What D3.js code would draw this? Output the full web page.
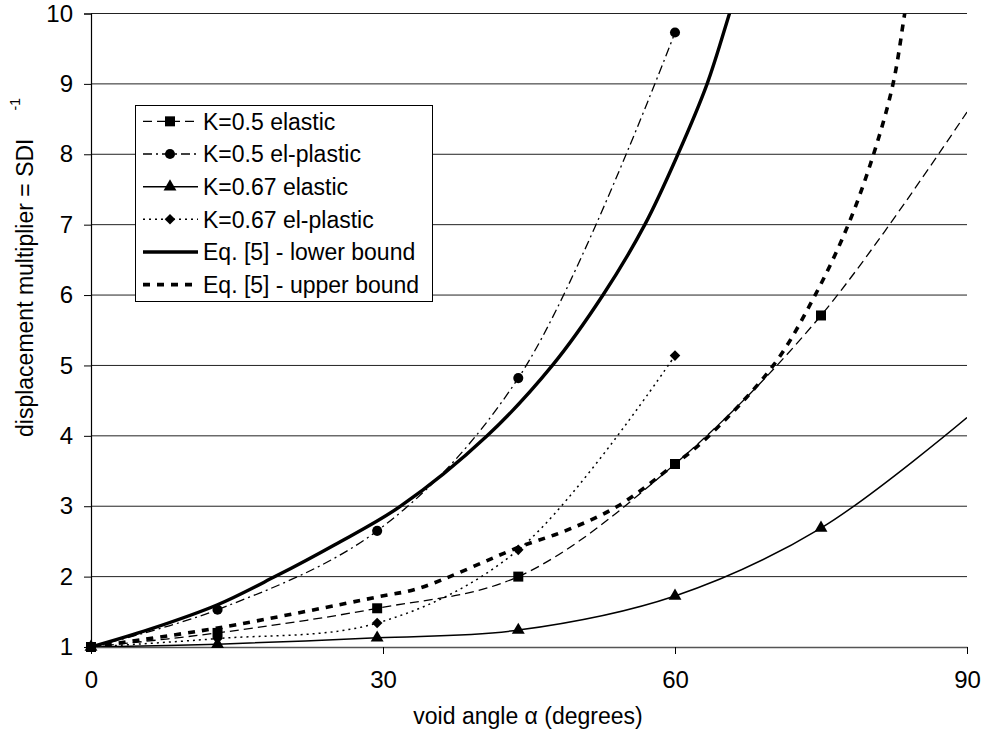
<!DOCTYPE html>
<html>
<head>
<meta charset="utf-8">
<script src="https://cdn.jsdelivr.net/npm/d3@7"></script>
<style>
  html, body { margin: 0; padding: 0; background: #fff; }
  svg { display: block; font-family: "Liberation Sans", Arial, sans-serif; }
</style>
</head>
<body>
<svg id="chart" width="982" height="738"></svg>
<script>
// Axis ticks
const angleTicks = [0, 30, 60, 90];
const multiplierTicks = [1, 2, 3, 4, 5, 6, 7, 8, 9, 10];

// Computed cases (void angle in degrees)
const caseAngles = [0, 13, 29.4, 43.9, 60, 75, 90];
const k05Elastic = [1, 1.2, 1.55, 2.0, 3.6, 5.71, 8.6];
const k05ElPlastic = [1, 1.53, 2.65, 4.82, 9.73];
const k067Elastic = [1, 1.04, 1.13, 1.24, 1.725, 2.69, 4.26];
const k067ElPlastic = [1, 1.12, 1.34, 2.38, 5.14];

// Eq. [5] bounds
const lowerAngles = [0, 6, 13, 18.9, 25, 31.8, 40.7, 47.4, 52.6, 56.9, 60.3, 63.3, 65.6, 66.5];
const lowerValues = [1, 1.25, 1.6, 2, 2.45, 3, 4, 5, 6, 7, 8, 9, 10, 10.4];
const upperAngles = [0, 13, 29.4, 33.8, 44, 48.9, 54.1, 60, 63.1, 70.1, 74.4, 77.8, 80.4, 82.4, 83.6, 84.3];
const upperValues = [1, 1.27, 1.71, 1.84, 2.42, 2.66, 3.0, 3.6, 3.95, 5, 6, 7, 8, 9, 10, 10.6];

const seriesNames = ["K=0.5 elastic", "K=0.5 el-plastic", "K=0.67 elastic", "K=0.67 el-plastic",
                     "Eq. [5] - lower bound", "Eq. [5] - upper bound"];

const series = [
  { name: seriesNames[0], xs: caseAngles, ys: k05Elastic, nMarkers: 6, marker: "square",
    width: 1.3, dash: "9,5" },
  { name: seriesNames[1], xs: caseAngles, ys: k05ElPlastic, nMarkers: 5, marker: "circle",
    width: 1.3, dash: "9,4,2,4" },
  { name: seriesNames[2], xs: caseAngles, ys: k067Elastic, nMarkers: 6, marker: "triangle",
    width: 1.5, dash: null },
  { name: seriesNames[3], xs: caseAngles, ys: k067ElPlastic, nMarkers: 5, marker: "diamond",
    width: 1.5, dash: "2,4" },
  { name: seriesNames[4], xs: lowerAngles, ys: lowerValues, nMarkers: 0, marker: null,
    width: 3.4, dash: null },
  { name: seriesNames[5], xs: upperAngles, ys: upperValues, nMarkers: 0, marker: null,
    width: 3.6, dash: "7,7" }
];

const FONT = 23;
const TICK_FONT = 24;
const svg = d3.select("#chart");
const plot = { left: 91, right: 967, top: 13.5, bottom: 647 };

const x = d3.scaleLinear().domain([0, 90]).range([plot.left, plot.right]);
const y = d3.scaleLinear().domain([1, 10]).range([plot.bottom, plot.top]);

svg.append("defs").append("clipPath").attr("id", "plotClip")
  .append("rect")
  .attr("x", plot.left).attr("y", plot.top)
  .attr("width", plot.right - plot.left).attr("height", plot.bottom - plot.top);

// Horizontal gridlines
svg.append("g")
  .selectAll("line")
  .data(multiplierTicks.filter(d => d > 1))
  .join("line")
  .attr("x1", plot.left).attr("x2", plot.right)
  .attr("y1", d => y(d)).attr("y2", d => y(d))
  .attr("stroke", "#222").attr("stroke-width", 1);

// Y axis
const yAxis = svg.append("g")
  .attr("transform", `translate(${plot.left},0)`)
  .call(d3.axisLeft(y).tickValues(multiplierTicks).tickSize(7).tickPadding(11).tickFormat(d3.format("d")));
yAxis.select(".domain").attr("stroke", "#000").attr("stroke-width", 1.2);
yAxis.selectAll(".tick line").attr("stroke", "#000");
yAxis.selectAll(".tick text")
  .attr("font-family", "Liberation Sans, Arial, sans-serif")
  .attr("font-size", TICK_FONT).attr("fill", "#000");

// X axis
const xAxis = svg.append("g")
  .attr("transform", `translate(0,${plot.bottom})`)
  .call(d3.axisBottom(x).tickValues(angleTicks).tickSize(7).tickPadding(17).tickSizeOuter(0));
xAxis.select(".domain").attr("stroke", "#555").attr("stroke-width", 1.4);
xAxis.selectAll(".tick line").attr("stroke", "#000");
xAxis.selectAll(".tick text")
  .attr("font-family", "Liberation Sans, Arial, sans-serif")
  .attr("font-size", TICK_FONT).attr("fill", "#000");

// Axis titles
svg.append("text")
  .attr("x", 528).attr("y", 724)
  .attr("text-anchor", "middle")
  .attr("font-size", FONT)
  .text("void angle \u03b1 (degrees)");

const yTitle = svg.append("text")
  .attr("transform", "translate(33,437) rotate(-90)")
  .attr("text-anchor", "start")
  .attr("font-size", FONT);
yTitle.append("tspan").text("displacement multiplier = SDI");
yTitle.append("tspan").attr("dx", 28).attr("dy", -13).attr("font-size", 14).text("-1");

// Series lines
const lineGen = d3.line()
  .x(d => x(d[0]))
  .y(d => y(d[1]))
  .curve(d3.curveCatmullRom.alpha(0.5));

const lineLayer = svg.append("g").attr("clip-path", "url(#plotClip)");
series.forEach(s => {
  const pts = s.ys.map((v, i) => [s.xs[i], v]);
  lineLayer.append("path")
    .attr("d", lineGen(pts))
    .attr("fill", "none")
    .attr("stroke", "#000")
    .attr("stroke-width", s.width)
    .attr("stroke-dasharray", s.dash)
    .attr("stroke-linejoin", "round");
});

// Marker shapes
const symbolFor = {
  square: { path: d3.symbol().type(d3.symbolSquare).size(100)(), rot: 0 },
  circle: { path: d3.symbol().type(d3.symbolCircle).size(80)(), rot: 0 },
  triangle: { path: d3.symbol().type(d3.symbolTriangle).size(72)(), rot: 0 },
  diamond: { path: d3.symbol().type(d3.symbolSquare).size(56)(), rot: 45 }
};

const markerLayer = svg.append("g");
series.forEach(s => {
  if (!s.marker) return;
  const sym = symbolFor[s.marker];
  const pts = s.ys.slice(0, s.nMarkers).map((v, i) => [s.xs[i], v]);
  markerLayer.selectAll(null)
    .data(pts)
    .join("path")
    .attr("d", sym.path)
    .attr("transform", d => `translate(${x(d[0])},${y(d[1])}) rotate(${sym.rot})`)
    .attr("fill", "#000");
});

// Legend
const legend = { x: 135, y: 105, w: 297, h: 196 };
const lg = svg.append("g");
lg.append("rect")
  .attr("x", legend.x + 0.5).attr("y", legend.y + 0.5)
  .attr("width", legend.w).attr("height", legend.h)
  .attr("fill", "#fff").attr("stroke", "#000").attr("stroke-width", 1);

const rowH = legend.h / series.length;
series.forEach((s, i) => {
  const cy = legend.y + rowH * (i + 0.5);
  const row = lg.append("g");
  row.append("line")
    .attr("x1", 143).attr("x2", 198)
    .attr("y1", cy).attr("y2", cy)
    .attr("stroke", "#000")
    .attr("stroke-width", s.width)
    .attr("stroke-dasharray", s.dash);
  if (s.marker) {
    const sym = symbolFor[s.marker];
    row.append("path")
      .attr("d", sym.path)
      .attr("transform", `translate(170,${cy}) rotate(${sym.rot})`)
      .attr("fill", "#000");
  }
  row.append("text")
    .attr("x", 203).attr("y", cy)
    .attr("dy", "0.36em")
    .attr("font-size", FONT)
    .text(s.name);
});
</script>
</body>
</html>
